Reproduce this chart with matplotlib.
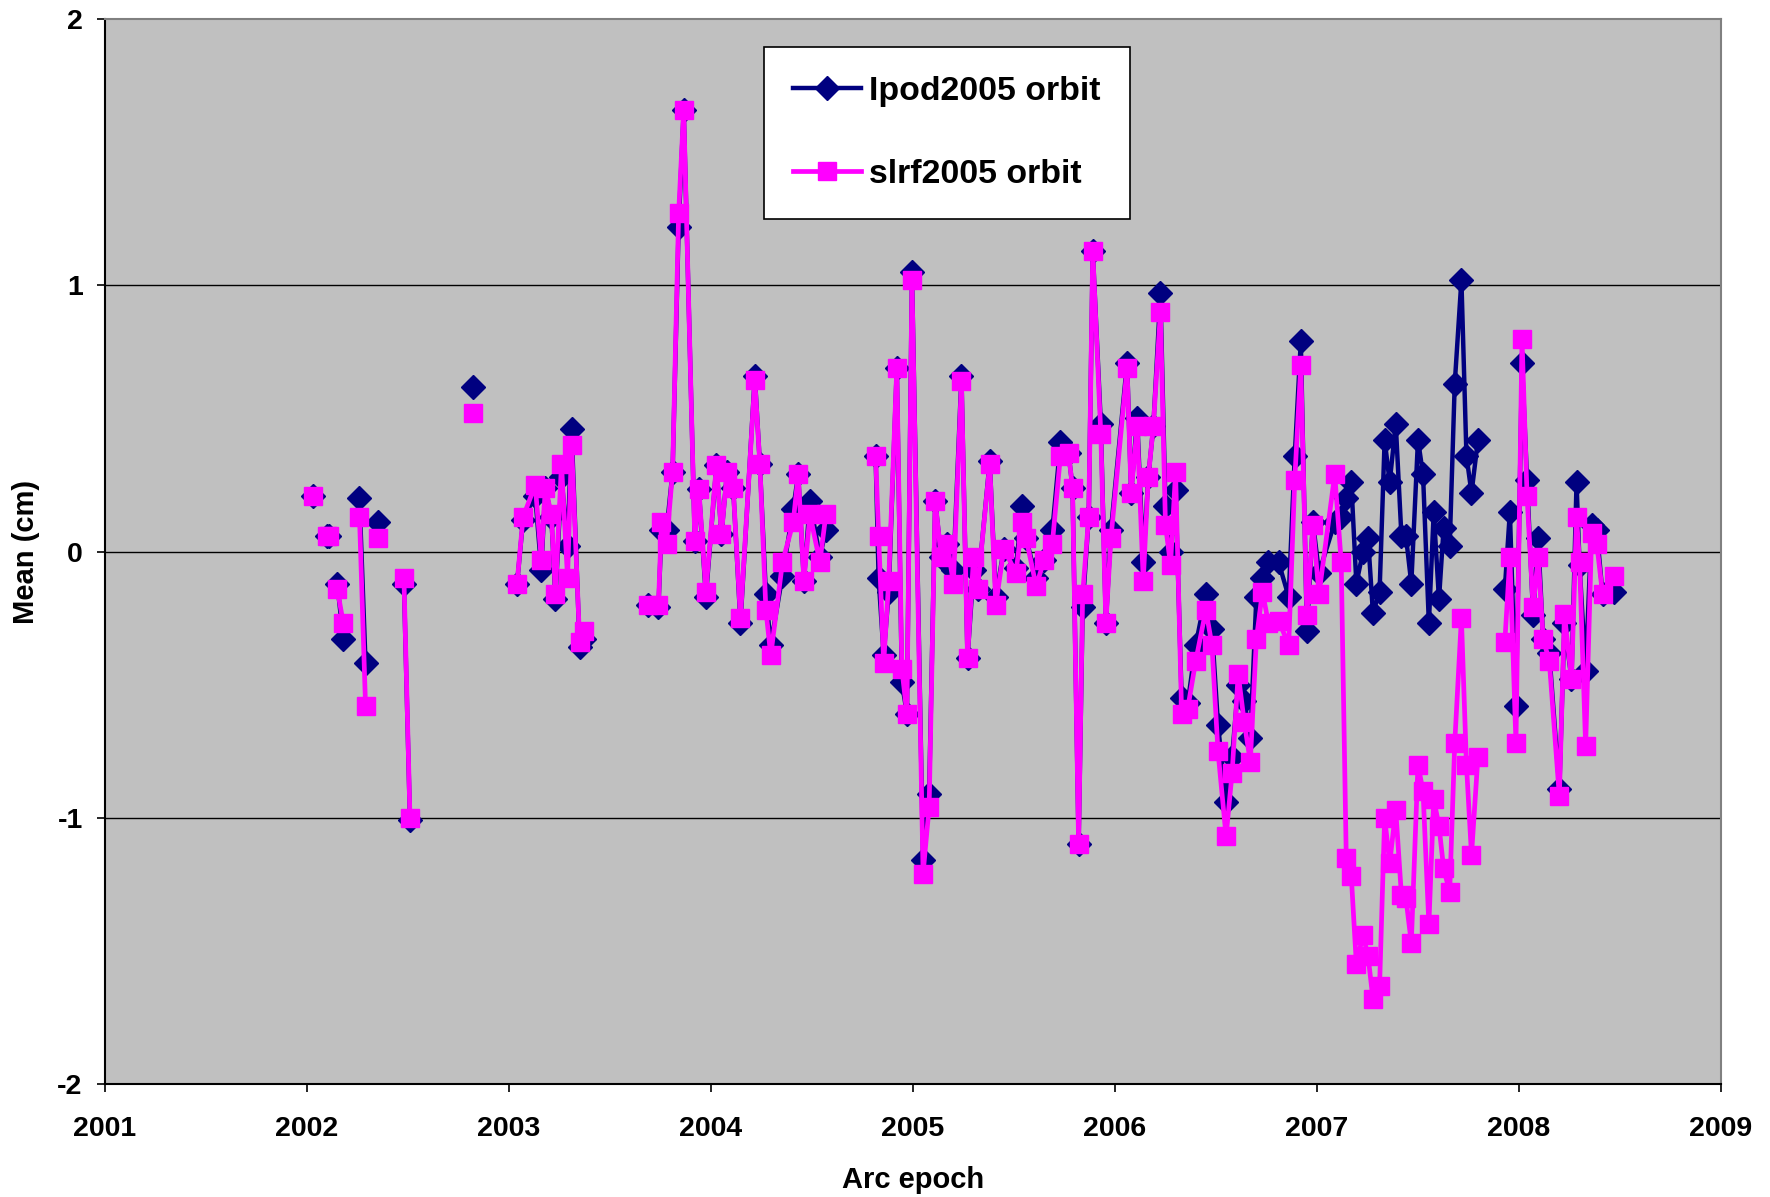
import numpy as np
import matplotlib
matplotlib.use("Agg")
import matplotlib.pyplot as plt

N = None
# Arc epoch (decimal year); None marks a break in the line
epoch = [
    2002.03, N, 2002.10, 2002.11, N, 2002.15, 2002.18, N, 2002.26, 2002.29, N, 2002.35, N,
    2002.48, 2002.51, N, 2002.82, N,
    2003.04, 2003.07, 2003.13, 2003.16, 2003.18, 2003.21, 2003.23, 2003.26, 2003.29, 2003.31,
    2003.35, 2003.37, N,
    2003.69, 2003.74, 2003.755, 2003.78, 2003.81, 2003.84, 2003.865, 2003.92, 2003.94, 2003.975,
    2004.027, 2004.052, 2004.08, 2004.11, 2004.146, 2004.217, 2004.242, 2004.272, 2004.296,
    2004.354, 2004.407, 2004.432, 2004.46, 2004.49, 2004.539, 2004.569, N,
    2004.815, 2004.83, 2004.855, 2004.88, 2004.92, 2004.945, 2004.97, 2004.995, 2005.05, 2005.08,
    2005.11, 2005.14, 2005.17, 2005.20, 2005.24, 2005.27, 2005.30, 2005.32, 2005.38, 2005.41,
    2005.45, 2005.51, 2005.54, 2005.56, 2005.61, 2005.65, 2005.69, 2005.73, 2005.77, 2005.79,
    2005.82, 2005.84, 2005.87, 2005.89, 2005.93, 2005.955, 2005.98, 2006.06, 2006.08, 2006.11,
    2006.14, 2006.165, 2006.19, 2006.225, 2006.25, 2006.275, 2006.30, 2006.33, 2006.36, 2006.40,
    2006.45, 2006.48, 2006.51, 2006.55, 2006.58, 2006.61, 2006.64, 2006.67, 2006.70, 2006.73,
    2006.76, 2006.81, 2006.86, 2006.89, 2006.92, 2006.95, 2006.98, 2007.01,
    2007.088, 2007.12, 2007.145, 2007.17, 2007.195, 2007.228, 2007.253, 2007.277, 2007.31,
    2007.335, 2007.36, 2007.39, 2007.418, 2007.44, 2007.467, 2007.50, 2007.525, 2007.554,
    2007.578, 2007.604, 2007.627, 2007.657, 2007.682, 2007.715, 2007.74, 2007.765, 2007.797, N,
    2007.93, 2007.955, 2007.985, 2008.015, 2008.04, 2008.07, 2008.095, 2008.12, 2008.15, 2008.20,
    2008.225, 2008.26, 2008.285, 2008.30, 2008.33, 2008.36, 2008.385, 2008.414, 2008.47,
]

lpod2005 = [
    0.21, N, 0.06, 0.06, N, -0.12, -0.33, N, 0.20, -0.42, N, 0.11, N,
    -0.12, -1.01, N, 0.62, N,
    -0.12, 0.12, 0.21, -0.07, 0.24, 0.13, -0.18, 0.28, 0.02, 0.46,
    -0.36, -0.33, N,
    -0.20, -0.21, 0.08, 0.08, 0.30, 1.22, 1.66, 0.04, 0.235, -0.17,
    0.325, 0.065, 0.30, 0.24, -0.27, 0.66, 0.33, -0.16, -0.35,
    -0.09, 0.16, 0.29, -0.11, 0.19, -0.02, 0.08, N,
    0.36, -0.10, -0.39, -0.15, 0.69, -0.49, -0.61, 1.05, -1.16, -0.91,
    0.19, -0.02, 0.03, -0.07, 0.66, -0.40, -0.07, -0.14, 0.34, -0.17,
    0.01, -0.06, 0.17, 0.05, -0.10, -0.03, 0.08, 0.41, 0.37, 0.24,
    -1.10, -0.21, 0.13, 1.13, 0.48, -0.27, 0.08, 0.71, 0.22, 0.50,
    -0.04, 0.28, 0.47, 0.97, 0.17, 0.00, 0.23, -0.55, -0.57, -0.35,
    -0.16, -0.29, -0.65, -0.94, -0.77, -0.50, -0.56, -0.70, -0.17, -0.10,
    -0.04, -0.04, -0.17, 0.36, 0.79, -0.30, 0.11, -0.08,
    0.11, 0.13, 0.20, 0.26, -0.12, 0.00, 0.05, -0.23, -0.15,
    0.42, 0.26, 0.48, 0.06, 0.06, -0.12, 0.42, 0.29, -0.27,
    0.15, -0.18, 0.09, 0.02, 0.63, 1.02, 0.36, 0.22, 0.42, N,
    -0.14, 0.15, -0.58, 0.71, 0.27, -0.24, 0.05, -0.33, -0.38, -0.89,
    -0.27, -0.48, 0.26, -0.05, -0.45, 0.10, 0.08, -0.16, -0.15,
]

slrf2005 = [
    0.21, N, 0.06, 0.06, N, -0.14, -0.27, N, 0.13, -0.58, N, 0.05, N,
    -0.10, -1.00, N, 0.52, N,
    -0.12, 0.13, 0.25, -0.03, 0.24, 0.14, -0.16, 0.33, -0.10, 0.40,
    -0.34, -0.30, N,
    -0.20, -0.20, 0.11, 0.03, 0.30, 1.27, 1.66, 0.04, 0.235, -0.15,
    0.325, 0.065, 0.30, 0.24, -0.25, 0.645, 0.33, -0.22, -0.39,
    -0.04, 0.11, 0.29, -0.11, 0.14, -0.04, 0.14, N,
    0.36, 0.06, -0.42, -0.11, 0.69, -0.44, -0.61, 1.02, -1.21, -0.96,
    0.19, -0.02, 0.03, -0.12, 0.64, -0.40, -0.02, -0.14, 0.33, -0.20,
    0.01, -0.08, 0.11, 0.05, -0.13, -0.03, 0.03, 0.36, 0.37, 0.24,
    -1.10, -0.16, 0.13, 1.13, 0.44, -0.27, 0.05, 0.69, 0.22, 0.47,
    -0.11, 0.28, 0.47, 0.90, 0.10, -0.05, 0.30, -0.61, -0.59, -0.41,
    -0.22, -0.35, -0.75, -1.07, -0.83, -0.46, -0.64, -0.79, -0.33, -0.15,
    -0.27, -0.26, -0.35, 0.27, 0.70, -0.24, 0.10, -0.16,
    0.29, -0.04, -1.15, -1.22, -1.55, -1.44, -1.52, -1.68, -1.63,
    -1.00, -1.17, -0.97, -1.29, -1.30, -1.47, -0.80, -0.90, -1.40,
    -0.93, -1.03, -1.19, -1.28, -0.72, -0.25, -0.80, -1.14, -0.77, N,
    -0.34, -0.02, -0.72, 0.80, 0.21, -0.21, -0.02, -0.33, -0.41, -0.92,
    -0.235, -0.48, 0.13, -0.04, -0.73, 0.07, 0.03, -0.16, -0.09,
]

year_ticks = [2001, 2002, 2003, 2004, 2005, 2006, 2007, 2008, 2009]
mean_ticks = [-2, -1, 0, 1, 2]
series_labels = ["Ipod2005 orbit", "slrf2005 orbit"]

def arr(v):
    return np.array([np.nan if a is None else a for a in v], dtype=float)

x = arr(epoch)
y1 = arr(lpod2005)
y2 = arr(slrf2005)

plt.rcParams['font.family'] = ['Liberation Sans', 'DejaVu Sans']
plt.rcParams['font.weight'] = 'bold'

fig = plt.figure(figsize=(17.7, 11.97), dpi=100)
ax = fig.add_axes([0.0593, 0.0944, 0.9130, 0.8896])
ax.set_facecolor('#C0C0C0')

for yv in [-1, 0, 1]:
    ax.axhline(yv, color='black', lw=1.0, zorder=1)

ax.plot(x, y1, color='#000080', lw=3.2, marker='D', ms=12, mec='#000080', mfc='#000080',
        label=series_labels[0], zorder=3)
ax.plot(x, y2, color='#FF00FF', lw=3.4, marker='s', ms=13, mec='#FF00FF', mfc='#FF00FF',
        label=series_labels[1], zorder=4)

ax.set_xlim(2001, 2009)
ax.set_ylim(-2, 2)
ax.set_xticks(year_ticks)
ax.set_xticklabels([str(t) for t in year_ticks])
ax.set_yticks(mean_ticks)
ax.set_yticklabels([str(t) for t in mean_ticks])
ax.tick_params(axis='x', direction='out', length=6, width=1.2, pad=17, labelsize=20.5)
ax.tick_params(axis='y', direction='out', length=6, width=1.2, pad=10, labelsize=20.5)

for s in ['left', 'bottom']:
    ax.spines[s].set_color('black')
    ax.spines[s].set_linewidth(1.5)
for s in ['top', 'right']:
    ax.spines[s].set_color('#808080')
    ax.spines[s].set_linewidth(1.5)

ax.set_xlabel('Arc epoch', fontsize=21, fontweight='bold')
ax.set_ylabel('Mean (cm)', fontsize=21, fontweight='bold')
ax.xaxis.set_label_coords(0.5, -0.077)
ax.yaxis.set_label_coords(-0.040, 0.5)

leg = ax.legend(loc='upper left', bbox_to_anchor=(0.408, 0.974), fontsize=24.4,
                frameon=True, fancybox=False, handlelength=2.0, labelspacing=1.55,
                borderpad=0.85, handletextpad=0.25, borderaxespad=0)
leg.get_frame().set_edgecolor('black')
leg.get_frame().set_linewidth(1.2)
leg.get_frame().set_facecolor('white')
leg.get_frame().set_alpha(1)

fig.savefig('out.png', dpi=100)
